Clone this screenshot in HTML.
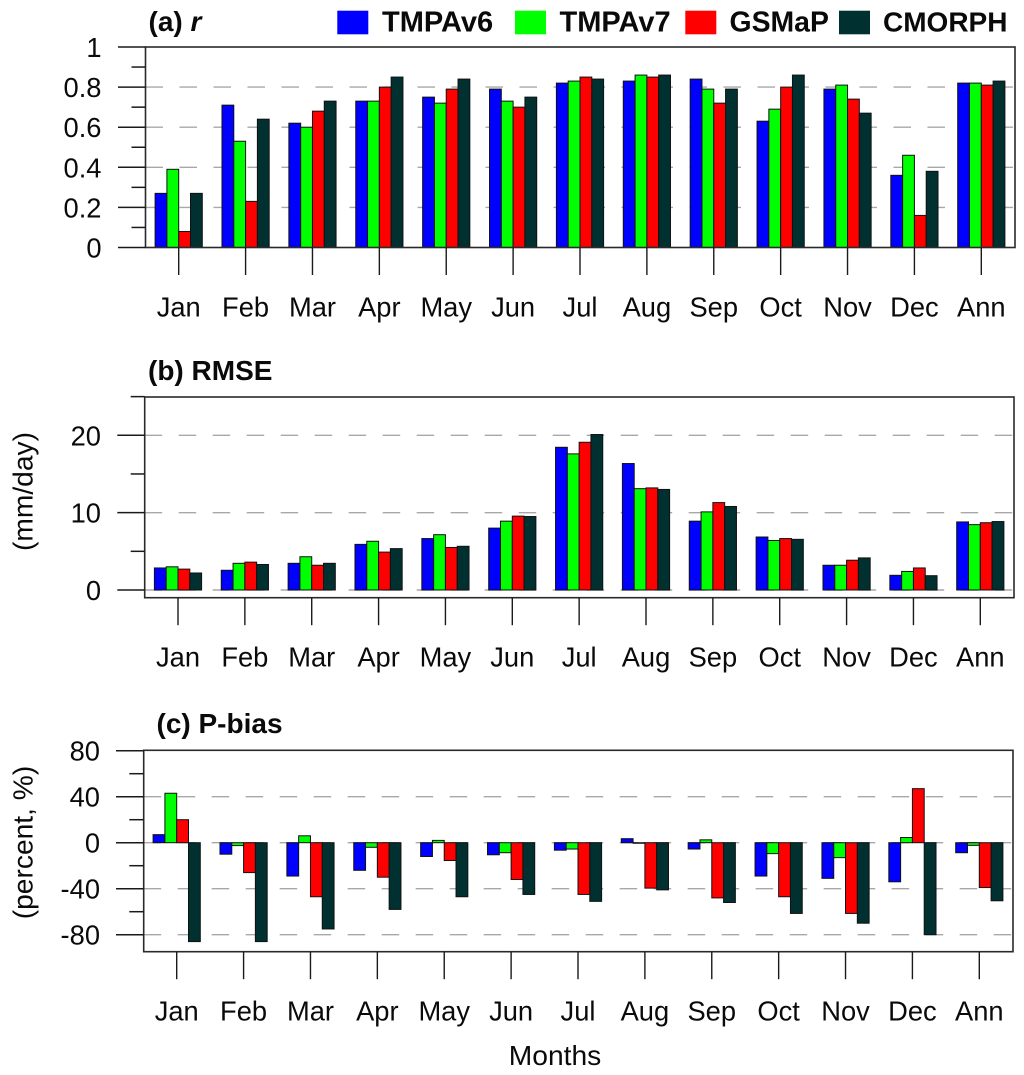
<!DOCTYPE html>
<html>
<head>
<meta charset="utf-8">
<title>Satellite precipitation metrics by month</title>
<style>
html,body{margin:0;padding:0;background:#fff;}
svg{display:block;filter:blur(0.3px);}
text{font-family:"Liberation Sans",Arial,sans-serif;fill:#0a0a0a;}
.lab{font-size:27.3px;}
.axt{font-size:28.2px;}
.ttl{font-size:28px;font-weight:bold;}
.leg{font-size:29px;font-weight:bold;}
</style>
</head>
<body>
<svg id="chart" xmlns="http://www.w3.org/2000/svg" width="1024" height="1075" viewBox="0 0 1024 1075">
  <rect x="0" y="0" width="1024" height="1075" fill="#ffffff"/>
  <text class="ttl" x="148.5" y="31">(a) <tspan font-style="italic">r</tspan></text>
  <text class="ttl" x="148" y="380">(b) RMSE</text>
  <text class="ttl" x="156.5" y="733">(c) P-bias</text>
  <g>
    <rect x="337.3" y="10.7" width="31" height="23.6" fill="#0000ff"/>
    <text class="leg" x="382" y="31.5">TMPAv6</text>
    <rect x="515" y="10.7" width="31" height="23.6" fill="#00ff00"/>
    <text class="leg" x="559.5" y="31.5">TMPAv7</text>
    <rect x="685.3" y="10.7" width="31" height="23.6" fill="#ff0000"/>
    <text class="leg" x="729.5" y="31.5" style="font-size:28.4px">GSMaP</text>
    <rect x="839" y="10.7" width="31" height="23.6" fill="#003030"/>
    <text class="leg" x="883" y="31.5" style="font-size:28px">CMORPH</text>
  </g>
  <text class="axt" transform="translate(32.5,491.5) rotate(-90)" text-anchor="middle">(mm/day)</text>
  <text class="axt" transform="translate(32.5,842.5) rotate(-90)" text-anchor="middle">(percent, %)</text>
  <text class="axt" x="555" y="1065" text-anchor="middle">Months</text>
</svg>
<script>
const months = ['Jan','Feb','Mar','Apr','May','Jun','Jul','Aug','Sep','Oct','Nov','Dec','Ann'];
const seriesNames = ['TMPAv6','TMPAv7','GSMaP','CMORPH'];

const rTmpaV6 = [0.27,0.71,0.62,0.73,0.75,0.79,0.82,0.83,0.84,0.63,0.79,0.36,0.82];
const rTmpaV7 = [0.39,0.53,0.60,0.73,0.72,0.73,0.83,0.86,0.79,0.69,0.81,0.46,0.82];
const rGsmap  = [0.08,0.23,0.68,0.80,0.79,0.70,0.85,0.85,0.72,0.80,0.74,0.16,0.81];
const rCmorph = [0.27,0.64,0.73,0.85,0.84,0.75,0.84,0.86,0.79,0.86,0.67,0.38,0.83];
const rMajorTicks = [0,0.2,0.4,0.6,0.8,1];
const rMinorTicks = [0.1,0.3,0.5,0.7,0.9];
const rGridTicks = [0.2,0.4,0.6,0.8];

const rmseTmpaV6 = [2.85,2.55,3.45,5.9,6.65,8.0,18.45,16.35,8.9,6.85,3.2,1.9,8.8];
const rmseTmpaV7 = [3.0,3.45,4.3,6.3,7.15,8.9,17.6,13.1,10.1,6.4,3.2,2.4,8.45];
const rmseGsmap  = [2.7,3.6,3.2,4.9,5.5,9.55,19.1,13.2,11.3,6.65,3.85,2.85,8.7];
const rmseCmorph = [2.2,3.3,3.45,5.35,5.65,9.5,20.1,13.0,10.8,6.55,4.15,1.85,8.85];
const rmseMajorTicks = [0,10,20];
const rmseMinorTicks = [5,15,25];
const rmseGridTicks = [0,10,20];

const biasTmpaV6 = [7,-10,-29,-24,-12,-10.5,-6.5,3.5,-5.5,-29,-31,-34,-8.7];
const biasTmpaV7 = [43,-2.5,6,-4,2,-8.7,-5.5,-0.5,2.5,-9.5,-13,4.5,-2.3];
const biasGsmap  = [20,-26,-47,-30,-15.5,-32,-45,-39.5,-48,-47,-61.5,47,-39];
const biasCmorph = [-86,-86,-75,-58,-47,-45,-51,-41,-52,-61.5,-70,-80,-50.5];
const biasMajorTicks = [-80,-40,0,40,80];
const biasMinorTicks = [-60,-20,20,60];
const biasGridTicks = [-80,-40,0,40];

const seriesColors = ['#0000ff','#00ff00','#ff0000','#003030'];
const NS = 'http://www.w3.org/2000/svg';
const svg = document.getElementById('chart');

function make(tag, attrs, parent) {
  const el = document.createElementNS(NS, tag);
  for (const k in attrs) el.setAttribute(k, attrs[k]);
  parent.appendChild(el);
  return el;
}

function drawPanel(p) {
  const yScale = v => p.y0 + (p.y1 - p.y0) * (v - p.v0) / (p.v1 - p.v0);
  const xScale = i => p.xFirst + i * (p.xLast - p.xFirst) / (months.length - 1);
  const barW = 11.8;

  const g = make('g', {}, svg);
  
  

  p.grid.forEach(v => {
    const line = make('line', {x1:p.left, x2:p.right - 1, y1:yScale(v), y2:yScale(v), stroke:'#a8a8a8', 'stroke-width':1.4, 'stroke-dasharray':'17.5 16.5'}, g);
    
    
  });

  p.series.forEach((vals, s) => {
    vals.forEach((v, i) => {
      const x = xScale(i) - 2 * barW + s * barW;
      const a = yScale(v), b = yScale(p.base);
      const bar = make('rect', {x:x, y:Math.min(a,b), width:barW, height:Math.abs(a-b), fill:seriesColors[s], stroke:'#111', 'stroke-width':1}, g);
      
      
    });
  });

  const box = make('rect', {x:p.left, y:p.top, width:p.right-p.left, height:p.bottom-p.top, fill:'none', stroke:'#2a2a2a', 'stroke-width':1.6}, g);
  
  

  p.major.forEach(v => {
    const t = make('line', {x1:p.tickMajor, x2:p.left, y1:yScale(v), y2:yScale(v), stroke:'#1a1a1a', 'stroke-width':1.5}, g);
    
    
    const lab = make('text', {x:p.labelRight, y:yScale(v) + 10, 'text-anchor':'end', class:'lab'}, g);
    lab.textContent = String(v);
    
    
  });
  p.minor.forEach(v => {
    const t = make('line', {x1:p.tickMinor, x2:p.left, y1:yScale(v), y2:yScale(v), stroke:'#1a1a1a', 'stroke-width':1.5}, g);
    
    
  });

  months.forEach((m, i) => {
    const t = make('line', {x1:xScale(i), x2:xScale(i), y1:p.bottom, y2:p.bottom + 27.5, stroke:'#1a1a1a', 'stroke-width':1.4}, g);
    
    
    const lab = make('text', {x:xScale(i), y:p.labelBase, 'text-anchor':'middle', class:'lab'}, g);
    lab.textContent = m;
    
    
  });
}

drawPanel({name:'correlation', left:145.5, right:1015, top:47, bottom:247.5,
  v0:0, v1:1, y0:247.5, y1:47, base:0,
  xFirst:178.7, xLast:981.3, tickMajor:118, tickMinor:131.5, labelRight:101.5, labelBase:316.5,
  series:[rTmpaV6,rTmpaV7,rGsmap,rCmorph], major:rMajorTicks, minor:rMinorTicks, grid:rGridTicks});

drawPanel({name:'rmse', left:144.7, right:1014, top:397, bottom:597.7,
  v0:0, v1:20, y0:590, y1:435.3, base:0,
  xFirst:178, xLast:980.3, tickMajor:117.3, tickMinor:130.7, labelRight:101, labelBase:666.5,
  series:[rmseTmpaV6,rmseTmpaV7,rmseGsmap,rmseCmorph], major:rmseMajorTicks, minor:rmseMinorTicks, grid:rmseGridTicks});

drawPanel({name:'pbias', left:143.7, right:1013, top:750.3, bottom:951.7,
  v0:-80, v1:80, y0:934.7, y1:750.7, base:0,
  xFirst:176.7, xLast:979.3, tickMajor:116, tickMinor:129.3, labelRight:100, labelBase:1020.5,
  series:[biasTmpaV6,biasTmpaV7,biasGsmap,biasCmorph], major:biasMajorTicks, minor:biasMinorTicks, grid:biasGridTicks});
</script>
</body>
</html>
